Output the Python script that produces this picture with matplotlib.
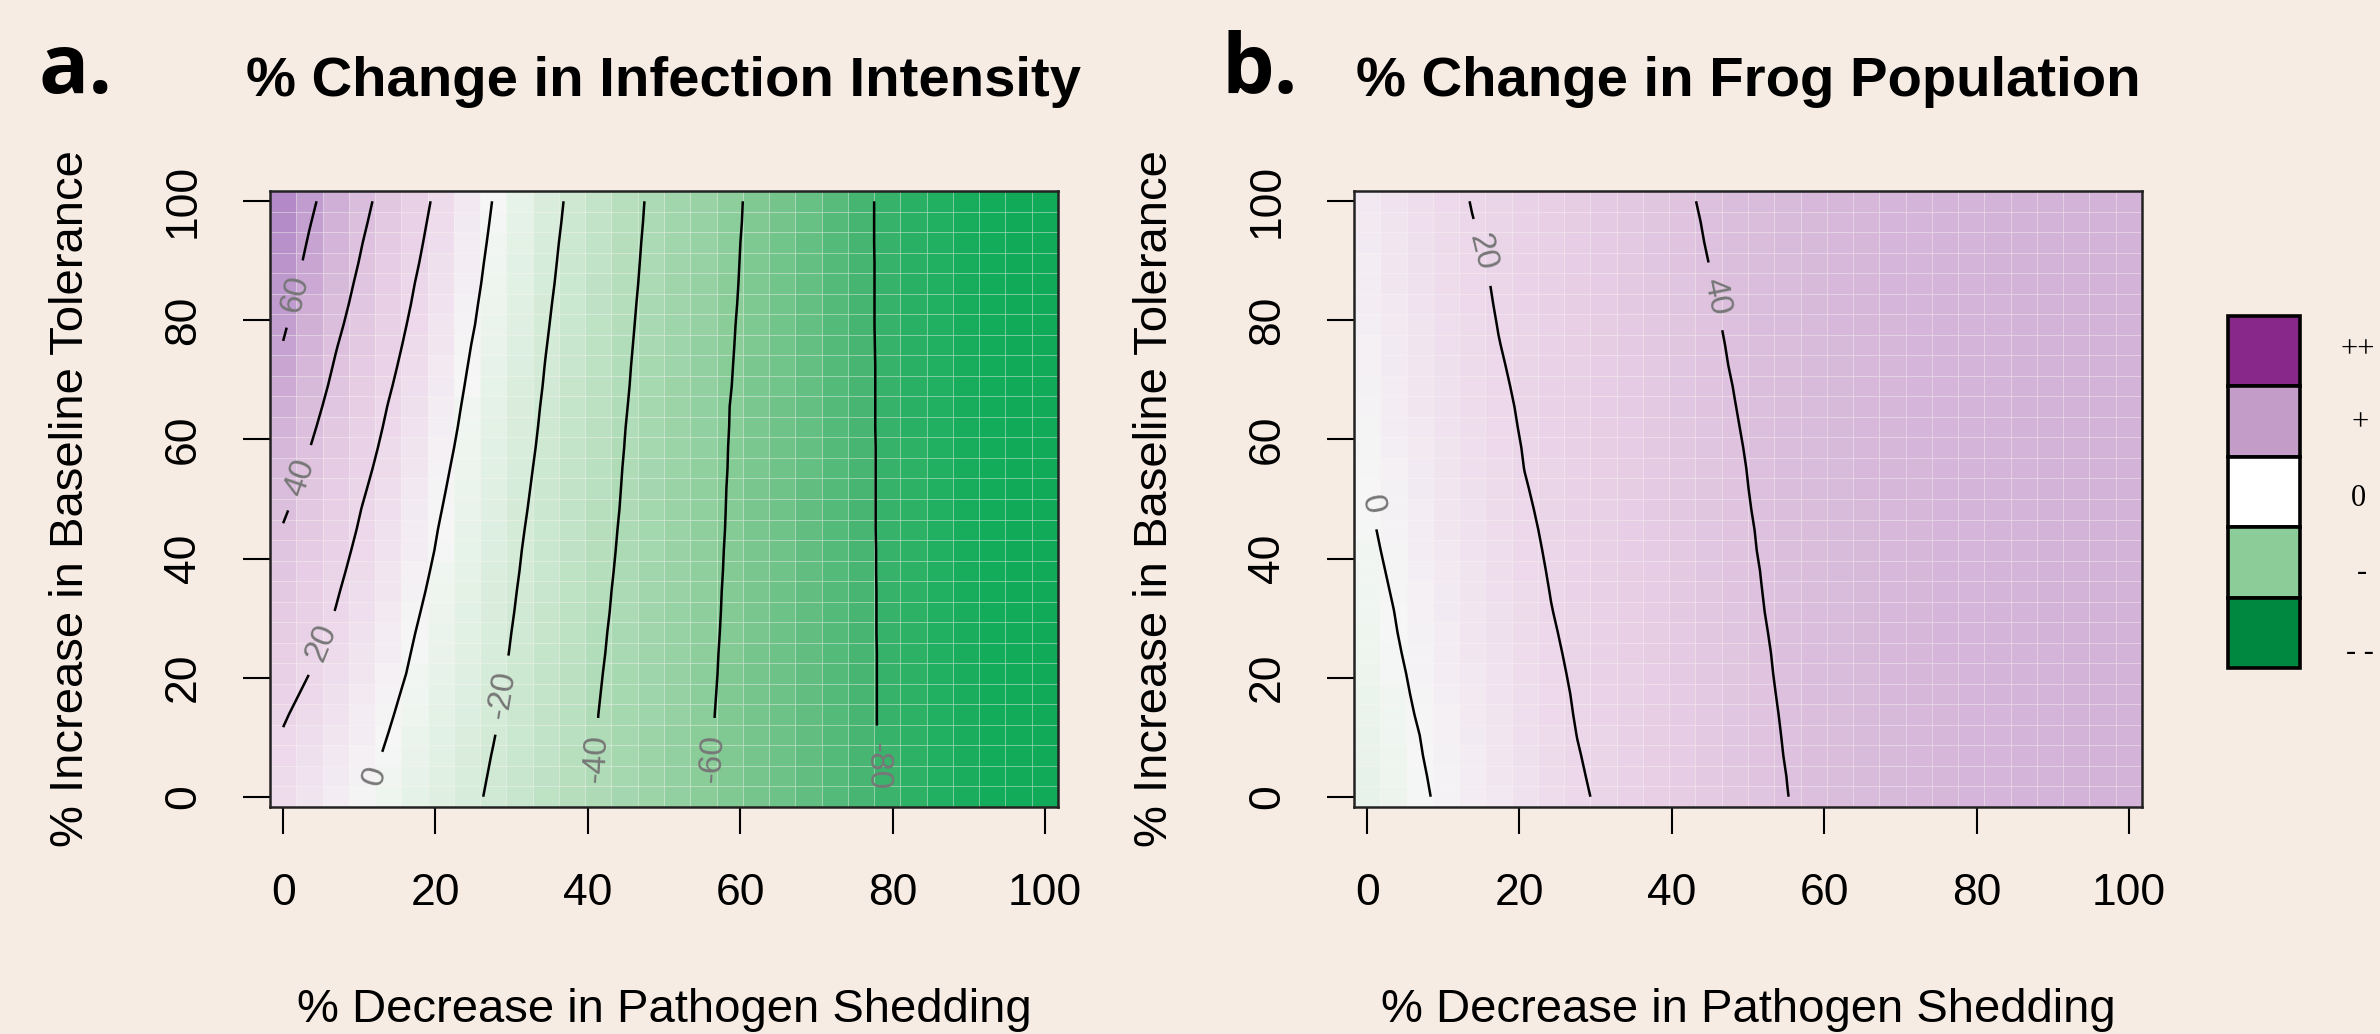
import numpy as np
import matplotlib
matplotlib.use("Agg")
import matplotlib.pyplot as plt
from matplotlib.colors import LinearSegmentedColormap, Normalize
from matplotlib.patches import Rectangle

plt.rcParams['font.family'] = ['Liberation Sans', 'DejaVu Sans']
plt.rcParams['contour.negative_linestyle'] = 'solid'

# ---------------- data ----------------
shedding_decrease = [0.0, 3.45, 6.9, 10.34, 13.79, 17.24, 20.69, 24.14, 27.59, 31.03,
                     34.48, 37.93, 41.38, 44.83, 48.28, 51.72, 55.17, 58.62, 62.07, 65.52,
                     68.97, 72.41, 75.86, 79.31, 82.76, 86.21, 89.66, 93.1, 96.55, 100.0]
tolerance_increase = [0.0, 3.45, 6.9, 10.34, 13.79, 17.24, 20.69, 24.14, 27.59, 31.03,
                      34.48, 37.93, 41.38, 44.83, 48.28, 51.72, 55.17, 58.62, 62.07, 65.52,
                      68.97, 72.41, 75.86, 79.31, 82.76, 86.21, 89.66, 93.1, 96.55, 100.0]

# % change in infection intensity (rows: tolerance, cols: shedding)
infection_change = [
    [15.0, 10.4, 5.8, 1.3, -3.3, -7.9, -12.5, -17.1, -21.8, -26.5, -31.3, -36.0, -40.8, -45.4, -50.0, -54.6, -59.2, -62.5, -65.6, -68.7, -71.8, -74.9, -78.0, -81.2, -84.0, -86.3, -88.1, -89.5, -90.6, -91.2],
    [16.4, 11.7, 7.0, 2.4, -2.3, -7.0, -11.7, -16.4, -21.1, -26.0, -30.8, -35.7, -40.6, -45.2, -49.8, -54.4, -59.0, -62.4, -65.5, -68.7, -71.8, -74.9, -78.0, -81.2, -84.0, -86.3, -88.1, -89.5, -90.6, -91.2],
    [17.9, 13.1, 8.3, 3.5, -1.3, -6.0, -10.8, -15.6, -20.4, -25.4, -30.4, -35.4, -40.4, -45.0, -49.6, -54.2, -58.8, -62.3, -65.4, -68.6, -71.7, -74.9, -78.0, -81.2, -84.0, -86.3, -88.1, -89.5, -90.6, -91.2],
    [19.3, 14.4, 9.6, 4.7, -0.1, -5.0, -9.9, -14.8, -19.6, -24.8, -29.9, -35.1, -40.2, -44.8, -49.4, -54.0, -58.6, -62.2, -65.4, -68.5, -71.7, -74.8, -78.0, -81.3, -84.0, -86.3, -88.1, -89.5, -90.6, -91.2],
    [21.1, 16.0, 11.0, 6.1, 1.1, -3.9, -9.0, -14.0, -19.0, -24.2, -29.4, -34.7, -40.0, -44.6, -49.2, -53.8, -58.4, -62.1, -65.3, -68.4, -71.6, -74.8, -78.0, -81.3, -84.0, -86.3, -88.1, -89.5, -90.6, -91.2],
    [23.1, 18.0, 12.7, 7.5, 2.3, -2.8, -8.0, -13.1, -18.3, -23.5, -28.9, -34.2, -39.6, -44.3, -48.9, -53.5, -58.2, -61.9, -65.2, -68.4, -71.6, -74.8, -78.0, -81.3, -84.1, -86.4, -88.1, -89.5, -90.6, -91.2],
    [25.1, 20.0, 14.5, 9.1, 3.7, -1.7, -7.0, -12.3, -17.5, -22.9, -28.3, -33.7, -39.2, -43.9, -48.6, -53.3, -57.9, -61.8, -65.1, -68.3, -71.5, -74.8, -78.0, -81.3, -84.1, -86.4, -88.2, -89.6, -90.6, -91.2],
    [27.1, 21.7, 16.2, 10.5, 4.9, -0.8, -6.1, -11.5, -16.8, -22.2, -27.7, -33.2, -38.7, -43.6, -48.3, -53.0, -57.7, -61.7, -65.0, -68.2, -71.5, -74.8, -78.0, -81.3, -84.1, -86.4, -88.2, -89.6, -90.6, -91.2],
    [29.2, 23.6, 17.9, 12.0, 6.1, 0.2, -5.3, -10.7, -16.2, -21.7, -27.2, -32.7, -38.3, -43.3, -48.0, -52.7, -57.5, -61.5, -64.8, -68.1, -71.4, -74.7, -78.0, -81.4, -84.2, -86.4, -88.2, -89.6, -90.6, -91.2],
    [31.2, 25.4, 19.7, 13.6, 7.5, 1.3, -4.4, -10.0, -15.6, -21.1, -26.7, -32.3, -37.8, -42.9, -47.7, -52.5, -57.2, -61.4, -64.7, -68.1, -71.4, -74.7, -78.0, -81.4, -84.2, -86.4, -88.2, -89.6, -90.6, -91.2],
    [33.2, 27.1, 21.0, 14.8, 8.6, 2.5, -3.5, -9.2, -14.9, -20.6, -26.2, -31.8, -37.4, -42.6, -47.4, -52.2, -57.0, -61.3, -64.6, -68.0, -71.3, -74.7, -78.0, -81.4, -84.2, -86.5, -88.3, -89.7, -90.7, -91.3],
    [35.3, 28.8, 22.4, 16.1, 9.8, 3.6, -2.5, -8.3, -14.2, -20.0, -25.7, -31.3, -36.9, -42.2, -47.1, -51.9, -56.8, -61.1, -64.5, -67.9, -71.3, -74.7, -78.1, -81.4, -84.2, -86.5, -88.3, -89.7, -90.7, -91.3],
    [37.3, 30.6, 23.9, 17.3, 11.0, 4.7, -1.5, -7.5, -13.5, -19.5, -25.2, -30.8, -36.5, -41.8, -46.7, -51.6, -56.5, -61.0, -64.4, -67.8, -71.2, -74.7, -78.1, -81.4, -84.3, -86.5, -88.3, -89.7, -90.7, -91.3],
    [39.3, 32.3, 25.4, 18.6, 12.2, 5.7, -0.7, -6.7, -12.8, -18.9, -24.6, -30.3, -36.0, -41.5, -46.4, -51.3, -56.3, -60.8, -64.3, -67.7, -71.2, -74.6, -78.1, -81.5, -84.3, -86.5, -88.3, -89.7, -90.7, -91.3],
    [41.5, 34.3, 27.1, 19.8, 13.3, 6.8, 0.3, -5.9, -12.1, -18.2, -24.1, -29.8, -35.5, -41.1, -46.1, -51.0, -56.0, -60.7, -64.2, -67.7, -71.1, -74.6, -78.1, -81.5, -84.3, -86.5, -88.3, -89.7, -90.7, -91.3],
    [43.7, 36.3, 28.8, 21.3, 14.5, 7.9, 1.3, -5.1, -11.3, -17.6, -23.5, -29.3, -35.1, -40.8, -45.8, -50.8, -55.8, -60.6, -64.1, -67.6, -71.1, -74.6, -78.1, -81.5, -84.3, -86.5, -88.3, -89.7, -90.7, -91.3],
    [46.0, 38.2, 30.5, 22.9, 15.8, 9.1, 2.3, -4.2, -10.5, -16.9, -23.0, -28.8, -34.7, -40.5, -45.5, -50.5, -55.5, -60.4, -64.0, -67.5, -71.0, -74.6, -78.1, -81.5, -84.3, -86.5, -88.3, -89.7, -90.7, -91.3],
    [48.3, 40.2, 32.3, 24.5, 17.1, 10.2, 3.4, -3.3, -9.7, -16.2, -22.4, -28.3, -34.3, -40.1, -45.2, -50.3, -55.3, -60.3, -63.8, -67.4, -71.0, -74.5, -78.1, -81.5, -84.3, -86.5, -88.3, -89.7, -90.7, -91.3],
    [50.5, 42.1, 34.1, 26.1, 18.4, 11.4, 4.4, -2.4, -9.0, -15.5, -21.9, -27.9, -33.8, -39.8, -44.9, -50.0, -55.1, -60.1, -63.7, -67.3, -70.9, -74.5, -78.1, -81.6, -84.4, -86.6, -88.3, -89.7, -90.7, -91.3],
    [52.8, 44.1, 35.7, 27.7, 19.7, 12.6, 5.4, -1.6, -8.2, -14.9, -21.4, -27.4, -33.4, -39.4, -44.6, -49.7, -54.8, -60.0, -63.6, -67.2, -70.9, -74.5, -78.1, -81.6, -84.4, -86.6, -88.3, -89.7, -90.7, -91.3],
    [55.1, 46.1, 37.4, 29.3, 21.2, 13.8, 6.5, -0.7, -7.5, -14.2, -20.8, -26.9, -33.0, -39.0, -44.3, -49.4, -54.6, -59.7, -63.5, -67.1, -70.8, -74.5, -78.1, -81.6, -84.4, -86.6, -88.4, -89.8, -90.7, -91.3],
    [57.3, 48.1, 39.0, 30.9, 22.7, 15.0, 7.6, 0.2, -6.7, -13.5, -20.3, -26.4, -32.5, -38.7, -44.0, -49.2, -54.4, -59.5, -63.4, -67.1, -70.8, -74.4, -78.1, -81.6, -84.4, -86.6, -88.4, -89.8, -90.7, -91.3],
    [59.6, 50.2, 40.7, 32.4, 24.2, 16.3, 8.7, 1.1, -5.9, -12.8, -19.7, -25.9, -32.1, -38.3, -43.7, -48.9, -54.1, -59.3, -63.2, -67.0, -70.7, -74.4, -78.1, -81.7, -84.4, -86.6, -88.4, -89.8, -90.7, -91.3],
    [61.6, 52.0, 42.6, 34.0, 25.7, 17.6, 9.9, 2.2, -5.0, -12.0, -19.1, -25.4, -31.6, -37.9, -43.4, -48.6, -53.9, -59.1, -63.1, -66.9, -70.6, -74.4, -78.2, -81.7, -84.5, -86.7, -88.4, -89.8, -90.7, -91.3],
    [63.5, 53.8, 44.4, 35.6, 27.2, 18.9, 11.0, 3.1, -4.3, -11.4, -18.5, -24.9, -31.2, -37.5, -43.1, -48.4, -53.6, -58.8, -63.0, -66.8, -70.6, -74.4, -78.2, -81.7, -84.5, -86.7, -88.4, -89.8, -90.7, -91.3],
    [65.4, 55.5, 46.2, 37.1, 28.6, 20.1, 12.1, 4.1, -3.5, -10.7, -17.8, -24.4, -30.7, -37.0, -42.8, -48.1, -53.3, -58.6, -62.8, -66.7, -70.5, -74.3, -78.2, -81.7, -84.5, -86.7, -88.4, -89.8, -90.7, -91.3],
    [67.3, 57.2, 47.9, 38.8, 30.1, 21.5, 13.2, 5.0, -2.8, -10.0, -17.2, -23.9, -30.3, -36.6, -42.5, -47.8, -53.1, -58.4, -62.7, -66.6, -70.5, -74.3, -78.2, -81.7, -84.5, -86.7, -88.4, -89.8, -90.7, -91.3],
    [69.2, 58.9, 49.6, 40.3, 31.5, 22.8, 14.3, 6.0, -2.0, -9.3, -16.6, -23.4, -29.8, -36.2, -42.2, -47.5, -52.8, -58.2, -62.6, -66.5, -70.4, -74.3, -78.2, -81.8, -84.5, -86.7, -88.4, -89.8, -90.7, -91.3],
    [71.1, 60.7, 51.3, 42.0, 33.0, 24.1, 15.4, 7.0, -1.2, -8.5, -15.9, -22.8, -29.3, -35.8, -41.8, -47.2, -52.6, -57.9, -62.4, -66.4, -70.3, -74.3, -78.2, -81.8, -84.5, -86.7, -88.4, -89.8, -90.7, -91.3],
    [73.0, 62.6, 53.0, 43.7, 34.5, 25.4, 16.6, 8.0, -0.4, -7.8, -15.2, -22.3, -28.8, -35.4, -41.5, -46.9, -52.3, -57.7, -62.3, -66.3, -70.3, -74.2, -78.2, -81.8, -84.5, -86.7, -88.4, -89.8, -90.7, -91.3],
]

# % change in frog population (rows: tolerance, cols: shedding)
frog_change = [
    [-7.0, -4.2, -1.3, 1.8, 5.1, 8.5, 11.8, 15.2, 18.5, 21.5, 24.1, 26.7, 29.4, 32.0, 34.6, 37.3, 39.9, 42.1, 43.9, 45.3, 46.4, 47.3, 48.0, 48.6, 49.1, 49.5, 49.8, 50.0, 50.2, 50.4],
    [-6.6, -3.7, -0.9, 2.3, 5.7, 9.0, 12.4, 15.7, 19.1, 21.9, 24.5, 27.1, 29.7, 32.3, 34.9, 37.5, 40.1, 42.3, 44.0, 45.4, 46.5, 47.4, 48.1, 48.7, 49.1, 49.5, 49.8, 50.0, 50.2, 50.4],
    [-6.1, -3.3, -0.4, 2.8, 6.2, 9.5, 12.9, 16.2, 19.6, 22.3, 24.8, 27.4, 30.0, 32.6, 35.2, 37.8, 40.4, 42.5, 44.2, 45.5, 46.6, 47.5, 48.2, 48.7, 49.2, 49.5, 49.8, 50.1, 50.2, 50.4],
    [-5.7, -2.8, 0.0, 3.4, 6.7, 10.1, 13.4, 16.7, 20.1, 22.6, 25.2, 27.8, 30.4, 32.9, 35.5, 38.1, 40.6, 42.7, 44.3, 45.6, 46.7, 47.5, 48.2, 48.8, 49.2, 49.6, 49.8, 50.1, 50.3, 50.4],
    [-5.2, -2.4, 0.6, 3.9, 7.2, 10.6, 13.9, 17.3, 20.5, 23.0, 25.6, 28.1, 30.7, 33.2, 35.8, 38.4, 40.8, 42.9, 44.5, 45.7, 46.8, 47.6, 48.3, 48.8, 49.2, 49.6, 49.9, 50.1, 50.3, 50.4],
    [-4.7, -1.9, 1.1, 4.4, 7.8, 11.1, 14.4, 17.8, 20.8, 23.4, 25.9, 28.5, 31.0, 33.5, 36.1, 38.6, 41.1, 43.0, 44.6, 45.9, 46.9, 47.7, 48.3, 48.9, 49.3, 49.6, 49.9, 50.1, 50.3, 50.4],
    [-4.3, -1.5, 1.6, 5.0, 8.3, 11.6, 15.0, 18.3, 21.2, 23.7, 26.3, 28.8, 31.3, 33.8, 36.4, 38.9, 41.3, 43.2, 44.7, 46.0, 47.0, 47.7, 48.4, 48.9, 49.3, 49.7, 49.9, 50.1, 50.3, 50.4],
    [-3.8, -1.0, 2.2, 5.5, 8.8, 12.1, 15.5, 18.8, 21.6, 24.1, 26.6, 29.1, 31.6, 34.1, 36.6, 39.1, 41.5, 43.4, 44.9, 46.1, 47.1, 47.8, 48.5, 49.0, 49.4, 49.7, 49.9, 50.2, 50.3, 50.5],
    [-3.4, -0.5, 2.7, 6.0, 9.3, 12.7, 16.0, 19.3, 22.0, 24.5, 27.0, 29.4, 31.9, 34.4, 36.9, 39.4, 41.7, 43.5, 45.0, 46.2, 47.1, 47.9, 48.5, 49.0, 49.4, 49.7, 50.0, 50.2, 50.3, 50.5],
    [-2.9, -0.1, 3.2, 6.5, 9.8, 13.2, 16.5, 19.8, 22.3, 24.8, 27.3, 29.8, 32.2, 34.7, 37.2, 39.7, 41.9, 43.7, 45.1, 46.3, 47.2, 48.0, 48.6, 49.0, 49.4, 49.7, 50.0, 50.2, 50.3, 50.5],
    [-2.5, 0.4, 3.7, 7.0, 10.4, 13.7, 17.0, 20.2, 22.7, 25.2, 27.6, 30.1, 32.5, 35.0, 37.5, 39.9, 42.1, 43.9, 45.3, 46.4, 47.3, 48.0, 48.6, 49.1, 49.5, 49.8, 50.0, 50.2, 50.4, 50.5],
    [-2.0, 0.9, 4.3, 7.6, 10.9, 14.2, 17.5, 20.6, 23.1, 25.5, 27.9, 30.4, 32.8, 35.3, 37.7, 40.1, 42.3, 44.0, 45.4, 46.5, 47.4, 48.1, 48.7, 49.1, 49.5, 49.8, 50.0, 50.2, 50.4, 50.5],
    [-1.6, 1.5, 4.8, 8.1, 11.4, 14.7, 18.0, 21.0, 23.4, 25.8, 28.3, 30.7, 33.1, 35.6, 38.0, 40.4, 42.5, 44.2, 45.5, 46.6, 47.5, 48.2, 48.7, 49.2, 49.5, 49.8, 50.1, 50.2, 50.4, 50.5],
    [-1.1, 2.0, 5.3, 8.6, 11.9, 15.2, 18.5, 21.4, 23.8, 26.2, 28.6, 31.0, 33.4, 35.8, 38.2, 40.6, 42.7, 44.3, 45.6, 46.7, 47.5, 48.2, 48.8, 49.2, 49.6, 49.8, 50.1, 50.3, 50.4, 50.5],
    [-0.7, 2.5, 5.8, 9.1, 12.4, 15.7, 19.1, 21.7, 24.1, 26.5, 28.9, 31.3, 33.7, 36.1, 38.5, 40.9, 42.9, 44.5, 45.8, 46.8, 47.6, 48.3, 48.8, 49.3, 49.6, 49.9, 50.1, 50.3, 50.4, 50.5],
    [-0.2, 3.0, 6.3, 9.6, 12.9, 16.2, 19.6, 22.1, 24.5, 26.8, 29.2, 31.6, 34.0, 36.4, 38.8, 41.1, 43.1, 44.6, 45.9, 46.9, 47.7, 48.4, 48.9, 49.3, 49.6, 49.9, 50.1, 50.3, 50.4, 50.6],
    [0.3, 3.6, 6.9, 10.2, 13.5, 16.8, 20.1, 22.4, 24.8, 27.2, 29.5, 31.9, 34.3, 36.6, 39.0, 41.3, 43.2, 44.8, 46.0, 47.0, 47.8, 48.4, 48.9, 49.3, 49.7, 49.9, 50.1, 50.3, 50.4, 50.6],
    [0.9, 4.2, 7.4, 10.7, 14.0, 17.3, 20.4, 22.8, 25.1, 27.5, 29.8, 32.2, 34.5, 36.9, 39.3, 41.5, 43.4, 44.9, 46.1, 47.1, 47.8, 48.5, 49.0, 49.4, 49.7, 49.9, 50.2, 50.3, 50.5, 50.6],
    [1.5, 4.7, 8.0, 11.3, 14.6, 17.8, 20.8, 23.1, 25.5, 27.8, 30.2, 32.5, 34.9, 37.2, 39.6, 41.8, 43.6, 45.1, 46.2, 47.2, 47.9, 48.5, 49.0, 49.4, 49.7, 50.0, 50.2, 50.3, 50.5, 50.6],
    [2.1, 5.3, 8.6, 11.8, 15.1, 18.3, 21.1, 23.5, 25.8, 28.2, 30.5, 32.9, 35.2, 37.6, 39.9, 42.1, 43.8, 45.3, 46.4, 47.3, 48.0, 48.6, 49.1, 49.5, 49.8, 50.0, 50.2, 50.4, 50.5, 50.6],
    [2.7, 5.9, 9.1, 12.4, 15.6, 18.8, 21.5, 23.8, 26.2, 28.5, 30.9, 33.2, 35.5, 37.9, 40.2, 42.4, 44.1, 45.4, 46.5, 47.4, 48.1, 48.7, 49.1, 49.5, 49.8, 50.0, 50.2, 50.4, 50.5, 50.6],
    [3.3, 6.5, 9.7, 12.9, 16.1, 19.3, 21.9, 24.2, 26.5, 28.9, 31.2, 33.5, 35.9, 38.2, 40.6, 42.6, 44.3, 45.6, 46.7, 47.5, 48.2, 48.8, 49.2, 49.6, 49.8, 50.1, 50.3, 50.4, 50.5, 50.6],
    [3.9, 7.0, 10.2, 13.4, 16.6, 19.8, 22.2, 24.5, 26.9, 29.2, 31.5, 33.9, 36.2, 38.5, 40.9, 42.9, 44.5, 45.8, 46.8, 47.6, 48.3, 48.8, 49.3, 49.6, 49.9, 50.1, 50.3, 50.4, 50.5, 50.6],
    [4.4, 7.6, 10.8, 13.9, 17.1, 20.2, 22.6, 24.9, 27.2, 29.6, 31.9, 34.2, 36.5, 38.9, 41.2, 43.1, 44.7, 45.9, 46.9, 47.7, 48.4, 48.9, 49.3, 49.6, 49.9, 50.1, 50.3, 50.4, 50.6, 50.6],
    [5.0, 8.2, 11.3, 14.5, 17.6, 20.6, 22.9, 25.3, 27.6, 29.9, 32.2, 34.6, 36.9, 39.2, 41.5, 43.4, 44.9, 46.1, 47.0, 47.8, 48.5, 49.0, 49.4, 49.7, 49.9, 50.2, 50.3, 50.5, 50.6, 50.7],
    [5.6, 8.8, 11.9, 15.0, 18.1, 20.9, 23.3, 25.6, 27.9, 30.3, 32.6, 34.9, 37.3, 39.6, 41.8, 43.7, 45.1, 46.3, 47.2, 47.9, 48.5, 49.0, 49.4, 49.7, 50.0, 50.2, 50.3, 50.5, 50.6, 50.7],
    [6.2, 9.3, 12.5, 15.6, 18.7, 21.4, 23.7, 26.0, 28.3, 30.7, 33.0, 35.3, 37.6, 40.0, 42.2, 43.9, 45.3, 46.4, 47.3, 48.1, 48.6, 49.1, 49.5, 49.8, 50.0, 50.2, 50.4, 50.5, 50.6, 50.7],
    [6.8, 9.9, 13.0, 16.1, 19.2, 21.8, 24.1, 26.4, 28.7, 31.1, 33.4, 35.7, 38.0, 40.4, 42.5, 44.1, 45.5, 46.6, 47.4, 48.2, 48.7, 49.2, 49.5, 49.8, 50.1, 50.2, 50.4, 50.5, 50.6, 50.7],
    [7.4, 10.5, 13.6, 16.7, 19.8, 22.2, 24.5, 26.8, 29.1, 31.4, 33.8, 36.1, 38.4, 40.7, 42.8, 44.4, 45.7, 46.7, 47.6, 48.3, 48.8, 49.2, 49.6, 49.9, 50.1, 50.3, 50.4, 50.5, 50.6, 50.7],
    [8.0, 11.1, 14.2, 17.3, 20.3, 22.6, 24.9, 27.2, 29.5, 31.8, 34.1, 36.5, 38.8, 41.1, 43.0, 44.6, 45.9, 46.9, 47.7, 48.3, 48.9, 49.3, 49.6, 49.9, 50.1, 50.3, 50.4, 50.6, 50.6, 50.7],
]

infection_levels = [-80, -60, -40, -20, 0, 20, 40, 60]
frog_levels = [0, 20, 40]
axis_ticks = [0, 20, 40, 60, 80, 100]

legend_labels = ['++', '+', '0', '-', '- -']
legend_colors = ['#87288a', '#c49cc8', '#ffffff', '#8ccc98', '#008840']

# colour ramp (value -> colour)
ramp_values = [-100, -90, -80, -70, -60, -40, -20, -10, -5, 0, 5, 15, 30, 40, 50, 72, 100]
ramp_colors = ['#009a4c', '#12ac5a', '#40b46e', '#68c084', '#88cc98', '#b0dcb8', '#d2ead6',
               '#e2f1e5', '#eaf4ec', '#f6f6f6', '#f3edf3', '#eedcec', '#e6cce4', '#dec2de',
               '#d4b4d8', '#b48cc8', '#9560b4']

# ---------------- figure ----------------
BG = '#f7ece4'
W, H = 2380, 1034
fig = plt.figure(figsize=(W / 100, H / 100), dpi=100, facecolor=BG)

cmap = LinearSegmentedColormap.from_list(
    'ramp', [((v + 100) / 200.0, c) for v, c in zip(ramp_values, ramp_colors)])
norm = Normalize(-100, 100)

X = np.array(shedding_decrease)
Y = np.array(tolerance_increase)
half = (X[1] - X[0]) / 2.0


def panel(rect, Z, levels, title, label_pos):
    ax = fig.add_axes(rect)
    ax.set_facecolor(BG)
    ax.pcolormesh(X, Y, np.array(Z), shading='nearest', cmap=cmap, norm=norm,
                  edgecolors=(1, 1, 1, 0.22), linewidth=0.6, antialiased=True)
    cs = ax.contour(X, Y, np.array(Z), levels=levels, colors='black',
                    linewidths=1.8, linestyles='solid')
    ax.clabel(cs, fmt='%d', fontsize=24, colors='#777777', inline=True,
              inline_spacing=16, manual=label_pos)
    ax.set_xlim(X[0] - half, X[-1] + half)
    ax.set_ylim(Y[0] - half, Y[-1] + half)
    ax.set_xticks(axis_ticks)
    ax.set_yticks(axis_ticks)
    ax.tick_params(direction='out', length=19.5, width=1.5, pad=28, labelsize=32,
                   colors='black')
    ax.tick_params(axis='y', labelrotation=90)
    for lab in ax.get_yticklabels():
        lab.set_va('center')
    for s in ax.spines.values():
        s.set_linewidth(1.8)
        s.set_color('#222222')
    ax.set_xlabel('% Decrease in Pathogen Shedding', fontsize=34)
    ax.xaxis.set_label_coords(0.5, -0.33)
    ax.xaxis.label.set_va('center')
    ax.set_ylabel('% Increase in Baseline Tolerance', fontsize=34)
    ax.yaxis.set_label_coords(-0.2525, 0.5)
    ax.yaxis.label.set_va('center')
    ax.text(0.5, 1.154, title, transform=ax.transAxes, ha='center', va='baseline',
            fontsize=40.5, fontweight='bold')
    return ax


axL = panel([270 / W, 1 - 807 / H, 788 / W, 616 / H], infection_change, infection_levels,
            '% Change in Infection Intensity',
            [(1.6, 84.4), (2.3, 53.5), (5.3, 25.7), (12.0, 3.5), (29.0, 17.0),
             (41.1, 6.5), (56.3, 6.5), (77.8, 5.2)])
axR = panel([1354 / W, 1 - 807 / H, 788 / W, 616 / H], frog_change, frog_levels,
            '% Change in Frog Population',
            [(0.34, 49.0), (14.7, 91.3), (45.6, 84.0)])

# panel letters
fig.text(38 / W, 1 - 93 / H, 'a.', fontsize=60, fontweight='bold',
         family=['Open Sans', 'DejaVu Sans'], ha='left', va='baseline')
fig.text(1222 / W, 1 - 93 / H, 'b.', fontsize=60, fontweight='bold',
         family=['Open Sans', 'DejaVu Sans'], ha='left', va='baseline')

# legend
lax = fig.add_axes([2228 / W, 1 - 668 / H, 72 / W, 352 / H])
lax.set_xlim(0, 1)
lax.set_ylim(0, 5)
lax.axis('off')
n = len(legend_labels)
for k, col in enumerate(legend_colors):
    lax.add_patch(Rectangle((0, n - 1 - k), 1, 1, facecolor=col, edgecolor='black',
                            linewidth=2.6, clip_on=False))
label_x = [2358, 2360, 2358, 2362, 2360]
label_y = [350, 423, 498, 572, 652]
for lab, lx, ly in zip(legend_labels, label_x, label_y):
    fig.text(lx / W, 1 - ly / H, lab, fontsize=22, family=['Liberation Serif', 'DejaVu Serif'],
             ha='center', va='center')

fig.savefig('out.png', dpi=100, facecolor=BG)
